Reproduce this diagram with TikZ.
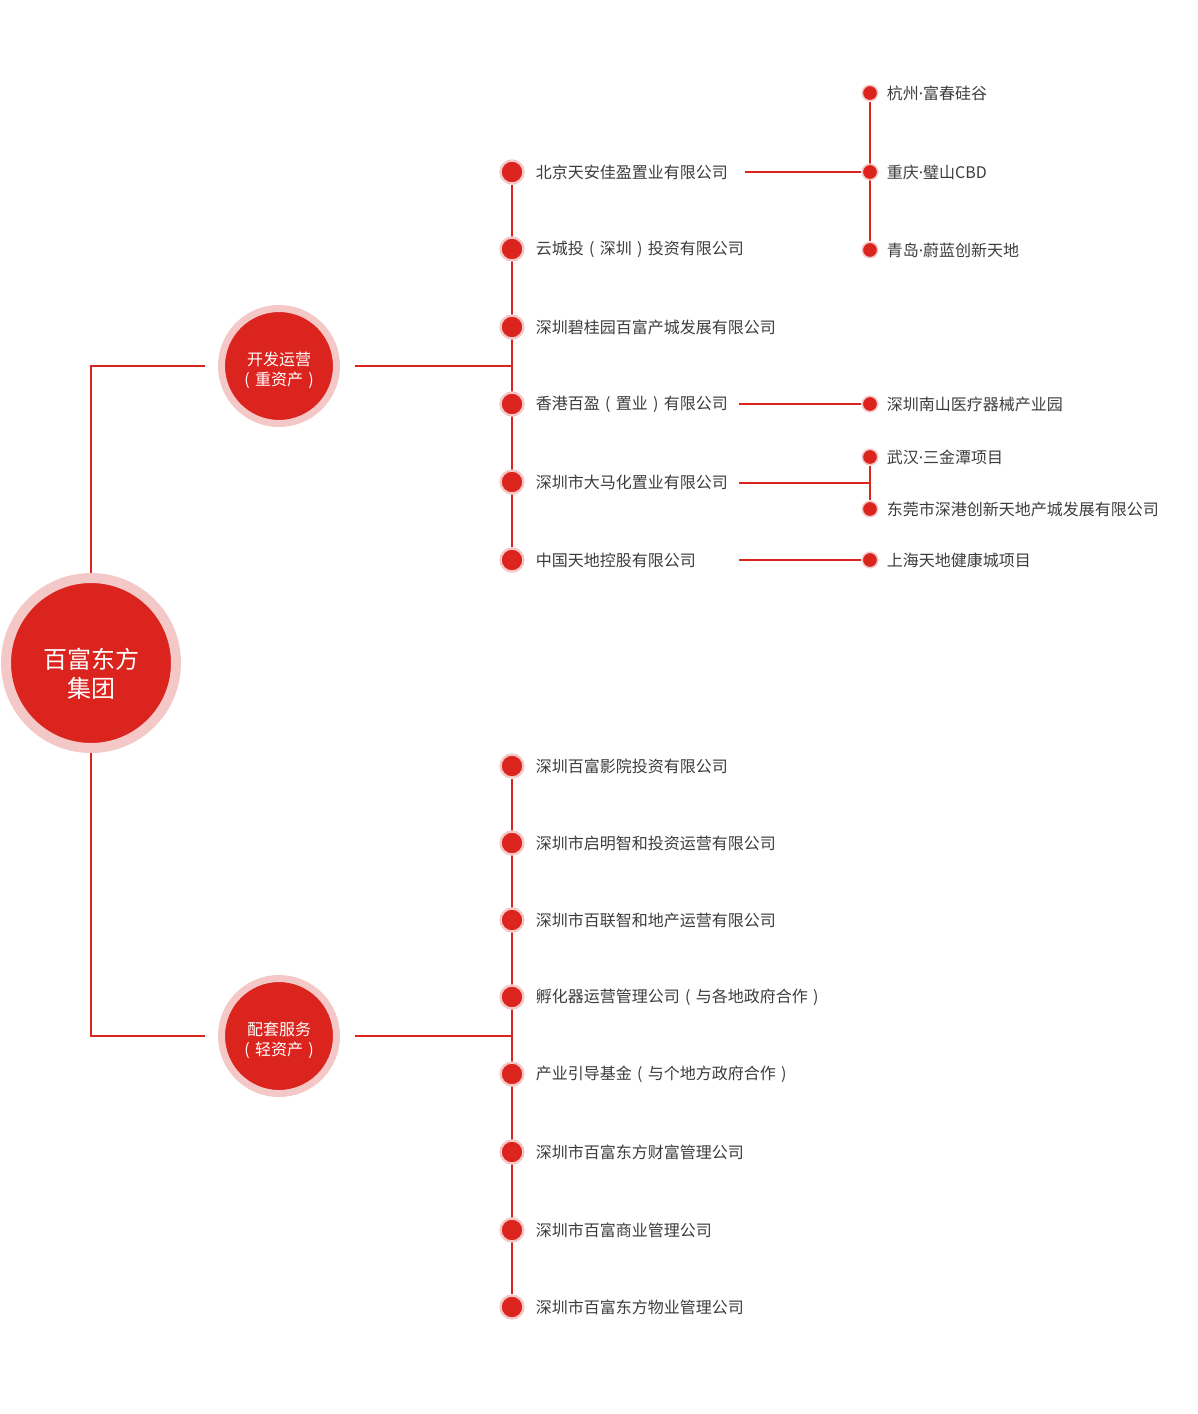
\documentclass[tikz,border=0pt]{standalone}
\usepackage{fontspec}
\setmainfont{Noto Sans CJK SC}
\newfontfamily\latinfont{Noto Sans}
\usepackage{xcolor}
\usepackage{tikz}
\usetikzlibrary{positioning,backgrounds}
\definecolor{bfred}{HTML}{DC241F}
\definecolor{bfpale}{HTML}{F5C8C8}
\definecolor{bftext}{HTML}{3C3C3C}
% full-width brackets with the glyph set in the middle of the em box
\newcommand{\lpar}{\makebox[1em][c]{(}}
\newcommand{\rpar}{\makebox[1em][c]{)}}
\newcommand{\mdot}{{\latinfont ·}}

\begin{document}
\begin{tikzpicture}[x=1pt,y=-1pt]
	\tikzstyle{every node}+=[inner sep=0pt]
	\tikzstyle{link}=[bfred, line width=2pt]
	\tikzstyle{hub}=[circle, fill=bfred, draw=bfpale, line width=7pt, minimum size=115pt]
	\tikzstyle{hubtext}=[text=white, align=center, font=\fontsize{16}{20}\selectfont]
	\tikzstyle{rootnode}=[circle, fill=bfred, draw=bfpale, line width=10pt, minimum size=170pt]
	\tikzstyle{roottext}=[text=white, align=center, font=\fontsize{24}{29}\selectfont]
	\tikzstyle{bigdot}=[circle, fill=bfred, draw=bfpale, line width=2.4pt, minimum size=23pt]
	\tikzstyle{smalldot}=[circle, fill=bfred, draw=bfpale, line width=1.6pt, minimum size=15.5pt]
	\tikzstyle{item}=[text=bftext, font=\fontsize{16}{18}\selectfont]
	\useasboundingbox (0,0) rectangle (1198,1414);
	% root and the two groups
	\node [rootnode] (root) at (91,663) {};
	\node [roottext] (troot) at (91,674) {百富东方\\集团};
	\node [hub] (dev) at (279,366) {};
	\node [hubtext] (tdev) at (279,370) {开发运营\\\lpar 重资产\rpar};
	\node [hub] (svc) at (279,1036) {};
	\node [hubtext] (tsvc) at (279,1040) {配套服务\\\lpar 轻资产\rpar};
	% heavy assets
	\node [bigdot] (a1) at (512,172) {};
	\node [item, right=11pt of a1] (ta1) {北京天安佳盈置业有限公司};
	\node [bigdot] (a2) at (512,249) {};
	\node [item, right=11pt of a2] (ta2) {云城投\lpar 深圳\rpar 投资有限公司};
	\node [bigdot] (a3) at (512,327) {};
	\node [item, right=11pt of a3] (ta3) {深圳碧桂园百富产城发展有限公司};
	\node [bigdot] (a4) at (512,404) {};
	\node [item, right=11pt of a4] (ta4) {香港百盈\lpar 置业\rpar 有限公司};
	\node [bigdot] (a5) at (512,482) {};
	\node [item, right=11pt of a5] (ta5) {深圳市大马化置业有限公司};
	\node [bigdot] (a6) at (512,560) {};
	\node [item, right=11pt of a6] (ta6) {中国天地控股有限公司};
	% projects
	\node [smalldot] (p1) at (870,93) {};
	\node [item, right=8pt of p1] (tp1) {杭州\mdot 富春硅谷};
	\node [smalldot] (p2) at (870,172) {};
	\node [item, right=8pt of p2] (tp2) {重庆\mdot 璧山CBD};
	\node [smalldot] (p3) at (870,250) {};
	\node [item, right=8pt of p3] (tp3) {青岛\mdot 蔚蓝创新天地};
	\node [smalldot] (p4) at (870,404) {};
	\node [item, right=8pt of p4] (tp4) {深圳南山医疗器械产业园};
	\node [smalldot] (p5) at (870,457) {};
	\node [item, right=8pt of p5] (tp5) {武汉\mdot 三金潭项目};
	\node [smalldot] (p6) at (870,509) {};
	\node [item, right=8pt of p6] (tp6) {东莞市深港创新天地产城发展有限公司};
	\node [smalldot] (p7) at (870,560) {};
	\node [item, right=8pt of p7] (tp7) {上海天地健康城项目};
	% light assets
	\node [bigdot] (b1) at (512,766) {};
	\node [item, right=11pt of b1] (tb1) {深圳百富影院投资有限公司};
	\node [bigdot] (b2) at (512,843) {};
	\node [item, right=11pt of b2] (tb2) {深圳市启明智和投资运营有限公司};
	\node [bigdot] (b3) at (512,920) {};
	\node [item, right=11pt of b3] (tb3) {深圳市百联智和地产运营有限公司};
	\node [bigdot] (b4) at (512,997) {};
	\node [item, right=11pt of b4] (tb4) {孵化器运营管理公司\lpar 与各地政府合作\rpar};
	\node [bigdot] (b5) at (512,1074) {};
	\node [item, right=11pt of b5] (tb5) {产业引导基金\lpar 与个地方政府合作\rpar};
	\node [bigdot] (b6) at (512,1152) {};
	\node [item, right=11pt of b6] (tb6) {深圳市百富东方财富管理公司};
	\node [bigdot] (b7) at (512,1230) {};
	\node [item, right=11pt of b7] (tb7) {深圳市百富商业管理公司};
	\node [bigdot] (b8) at (512,1307) {};
	\node [item, right=11pt of b8] (tb8) {深圳市百富东方物业管理公司};
	% free ends of the project links
	\coordinate (s1) at (745,172);
	\coordinate (s4) at (739,404);
	\coordinate (s5) at (739,483);
	\coordinate (s6) at (739,560);
	\begin{pgfonlayer}{background}
		\draw [link, shorten >=13pt] (root) |- (dev);
		\draw [link, shorten >=13pt] (root) |- (svc);
		\draw [link, shorten <=15pt] (dev) -- (dev -| a1);
		\draw [link, shorten <=15pt] (svc) -- (svc -| b1);
		\draw [link] (a1) -- (a6);
		\draw [link] (b1) -- (b8);
		\draw [link] (p1) -- (p3);
		\draw [link] (s1) -- (p2);
		\draw [link] (s4) -- (p4);
		\draw [link] (p5) -- (p6);
		\draw [link] (s5) -- (s5 -| p5);
		\draw [link] (s6) -- (p7);
	\end{pgfonlayer}
\end{tikzpicture}
\end{document}
